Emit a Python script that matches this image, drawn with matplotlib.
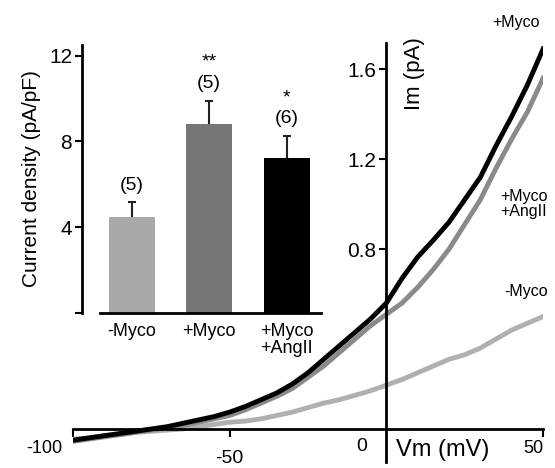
import matplotlib
matplotlib.use("Agg")
import matplotlib.pyplot as plt

plt.rcParams['font.family'] = ['Liberation Sans', 'DejaVu Sans']

# I-V traces (mV, pA)
vm = [-100, -95, -90, -85, -80, -75, -70, -65, -60, -55, -50, -45, -40, -35, -30, -25,
      -20, -15, -10, -5, 0, 5, 10, 15, 20, 25, 30, 35, 40, 45, 50]
im_myco = [-0.05, -0.04, -0.03, -0.02, -0.01, 0.0, 0.01, 0.025, 0.04, 0.055, 0.075, 0.10,
           0.13, 0.16, 0.20, 0.25, 0.31, 0.37, 0.43, 0.49, 0.56, 0.67, 0.765, 0.84, 0.92,
           1.02, 1.12, 1.26, 1.39, 1.53, 1.69]
im_myco_ang = [-0.055, -0.045, -0.035, -0.025, -0.015, -0.005, 0.005, 0.015, 0.03, 0.045,
               0.06, 0.085, 0.115, 0.145, 0.18, 0.23, 0.28, 0.34, 0.40, 0.46, 0.51, 0.56,
               0.63, 0.71, 0.80, 0.91, 1.02, 1.16, 1.29, 1.41, 1.56]
im_ctrl = [-0.045, -0.04, -0.03, -0.025, -0.015, -0.01, -0.005, 0.0, 0.01, 0.02, 0.03,
           0.035, 0.045, 0.06, 0.075, 0.095, 0.115, 0.13, 0.15, 0.17, 0.195, 0.22, 0.25,
           0.28, 0.31, 0.33, 0.36, 0.40, 0.44, 0.47, 0.50]

# inset bars
groups = ['-Myco', '+Myco', '+Myco\n+AngII']
density = [4.47, 8.8, 7.25]
sem = [0.7, 1.1, 1.0]
n_cells = ['(5)', '(5)', '(6)']
stars = ['', '**', '*']
bar_colors = ['#a8a8a8', '#767676', '#000000']

fig = plt.figure(figsize=(5.55, 4.68), dpi=100)

# main I-V plot
ax = fig.add_axes([0.1315, 0.0128, 0.847, 0.895])
ax.set_facecolor('none')
ax.plot(vm, im_ctrl, color='#b0b0b0', lw=3.5)
ax.plot(vm, im_myco_ang, color='#8a8a8a', lw=3.5)
ax.plot(vm, im_myco, color='black', lw=3.5)
ax.set_xlim(-100, 50)
ax.set_ylim(-0.147, 1.716)
for s in ['top', 'right']:
    ax.spines[s].set_visible(False)
ax.spines['left'].set_position(('data', 0))
ax.spines['bottom'].set_position(('data', 0))
ax.spines['left'].set_linewidth(2)
ax.spines['bottom'].set_linewidth(2)
ax.set_yticks([0.8, 1.2, 1.6])
ax.set_yticklabels(['0.8', '1.2', '1.6'], fontsize=15)
ax.set_xticks([-100, -50, 50])
ax.set_xticklabels([])
ax.tick_params(axis='y', direction='out', length=5, width=1.5, pad=2)
ax.tick_params(axis='x', direction='out', length=6, width=1.5)

ax.text(-109, -0.085, '-100', fontsize=13, ha='center', va='center')
ax.text(-50, -0.133, '-50', fontsize=14, ha='center', va='center')
ax.text(-8, -0.08, '0', fontsize=14, ha='center', va='center')
ax.text(47, -0.085, '50', fontsize=13, ha='center', va='center', clip_on=False)
ax.text(3.2, -0.093, 'Vm (mV)', fontsize=17, ha='left', va='center')
ax.text(9, 1.58, 'Im (pA)', fontsize=16, rotation=90, ha='center', va='center')

ax.text(33.9, 1.81, '+Myco', fontsize=11.5, ha='left', va='center', clip_on=False)
ax.text(36.4, 1.0, '+Myco\n+AngII', fontsize=11.5, ha='left', va='center', linespacing=1.05)
ax.text(37.7, 0.61, '-Myco', fontsize=11.5, ha='left', va='center')

# inset bar chart
axin = fig.add_axes([0.180, 0.331, 0.398, 0.573])
axin.set_facecolor('none')
pos = list(range(len(groups)))
axin.bar(pos, density, width=0.59, color=bar_colors)
_, caps, _ = axin.errorbar(pos, density, yerr=[[0, 0, 0], sem], fmt='none',
                           ecolor='#222222', elinewidth=1.5, capsize=3, capthick=1.5)
caps[0].set_visible(False)
for i in pos:
    top = density[i] + sem[i]
    axin.text(i, top + 0.8, n_cells[i], fontsize=14, ha='center', va='center')
    if stars[i]:
        axin.text(i, top + 1.8, stars[i], fontsize=14, ha='center', va='center')
axin.set_xlim(-0.41, 2.44)
axin.set_ylim(0, 12.5)
for s in ['top', 'right']:
    axin.spines[s].set_visible(False)
axin.spines['left'].set_position(('outward', 13))
axin.spines['left'].set_linewidth(2)
axin.spines['bottom'].set_linewidth(2)
axin.set_yticks([0, 4, 8, 12])
axin.set_yticklabels(['', '4', '8', '12'], fontsize=15)
axin.set_xticks(pos)
axin.set_xticklabels(groups, fontsize=13, linespacing=1.05)
axin.tick_params(axis='x', length=0, pad=7)
axin.tick_params(axis='y', direction='out', length=5, width=1.5, pad=2)
axin.set_ylabel('Current density (pA/pF)', fontsize=15, labelpad=6)

fig.savefig('out.png', dpi=100)
